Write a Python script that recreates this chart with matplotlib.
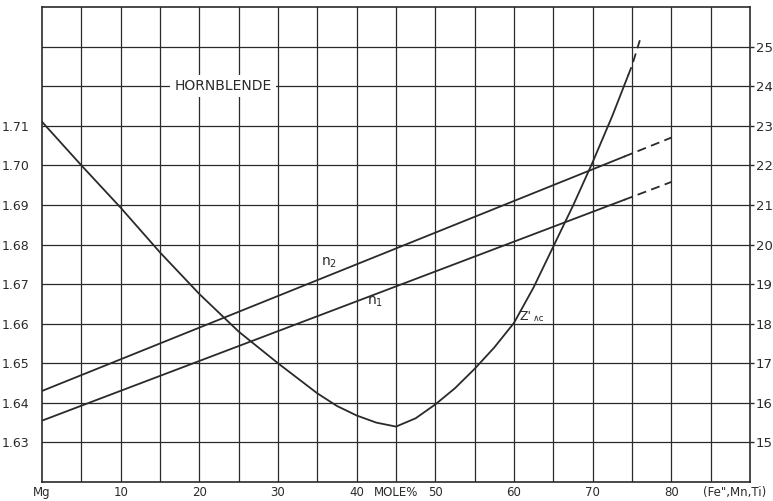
import matplotlib.pyplot as plt
import numpy as np

# mole % (Fe'',Mn,Ti) and values
comp = [0, 80]
n2 = [1.643, 1.707]
n1 = [1.6355, 1.6958]
dash_from = 74  # lines are dashed beyond this point

z_comp = [0, 5, 10, 15, 20, 25, 30, 35, 37.5, 40, 42.5, 45, 47.5, 50, 52.5, 55,
          57.5, 60, 62.5, 65, 67.5, 70, 72.5, 75, 76]
z_val = [1.711, 1.700, 1.6893, 1.678, 1.6675, 1.658, 1.650, 1.6424, 1.6392, 1.6368,
         1.6350, 1.634, 1.6361, 1.6396, 1.6437, 1.6486, 1.6540, 1.6602, 1.6692,
         1.6795, 1.6898, 1.7008, 1.7125, 1.7252, 1.7316]
z_dash_from = 74.5

left_ticks = [1.63, 1.64, 1.65, 1.66, 1.67, 1.68, 1.69, 1.70, 1.71]
right_ticks = list(range(15, 26))
x_ticks = [0, 10, 20, 30, 40, 45, 50, 60, 70, 80, 88]
x_labels = ['Mg', '10', '20', '30', '40', 'MOLE%', '50', '60', '70', '80', '(Fe",Mn,Ti)']

ink = '#2a2a2a'
fig = plt.figure(figsize=(7.73, 5.01), dpi=100)
ax = fig.add_axes([42 / 773, 1 - 482 / 501, 708 / 773, 475 / 501])
ax.set_xlim(0, 90)
ax.set_ylim(1.62, 1.74)

# grid
for gx in np.arange(5, 90, 5):
    ax.axvline(gx, color=ink, lw=0.9, zorder=1)
for gy in np.arange(1.63, 1.735, 0.01):
    ax.axhline(gy, color=ink, lw=0.9, zorder=1)
for s in ax.spines.values():
    s.set_color(ink)
    s.set_linewidth(1.2)


def split_line(xs, ys, cut):
    xs = np.asarray(xs, float)
    ys = np.asarray(ys, float)
    yc = np.interp(cut, xs, ys)
    m = xs < cut
    sx = list(xs[m]) + [cut]
    sy = list(ys[m]) + [yc]
    dx = [cut] + list(xs[~m])
    dy = [yc] + list(ys[~m])
    ax.plot(sx, sy, color=ink, lw=1.3, zorder=3)
    ax.plot(dx, dy, color=ink, lw=1.3, ls=(0, (5, 3)), zorder=3)


split_line(comp, n2, dash_from)
split_line(comp, n1, dash_from)
split_line(z_comp, z_val, z_dash_from)

ax.text(36.5, 1.6755, 'n$_2$', fontsize=10, color=ink, ha='center', va='center')
ax.text(42.3, 1.6655, 'n$_1$', fontsize=10, color=ink, ha='center', va='center')
ax.text(60.7, 1.6618, "Z'", fontsize=9, color=ink, ha='left', va='center')
ax.text(62.4, 1.6614, '\u2227c', fontsize=6.5, color=ink, ha='left', va='center')
ax.text(23.0, 1.720, 'HORNBLENDE', fontsize=10, color=ink, ha='center', va='center',
        zorder=4, bbox=dict(facecolor='white', edgecolor='none', pad=3))

ax.set_yticks(left_ticks)
ax.set_yticklabels(['%.2f' % v for v in left_ticks])
ax.tick_params(axis='y', length=0, pad=9, labelsize=9, labelcolor=ink)
ax.set_xticks(x_ticks)
ax.set_xticklabels(x_labels)
ax.tick_params(axis='x', length=0, pad=3, labelsize=8.5, labelcolor=ink)

ax2 = ax.twinx()
ax2.set_ylim(14, 26)
ax2.set_yticks(right_ticks)
ax2.set_yticklabels([str(v) for v in right_ticks])
ax2.tick_params(axis='y', length=3, width=1.0, color=ink, pad=1, labelsize=9.5, labelcolor=ink)
for s in ax2.spines.values():
    s.set_visible(False)

fig.savefig('out.png', dpi=100)
